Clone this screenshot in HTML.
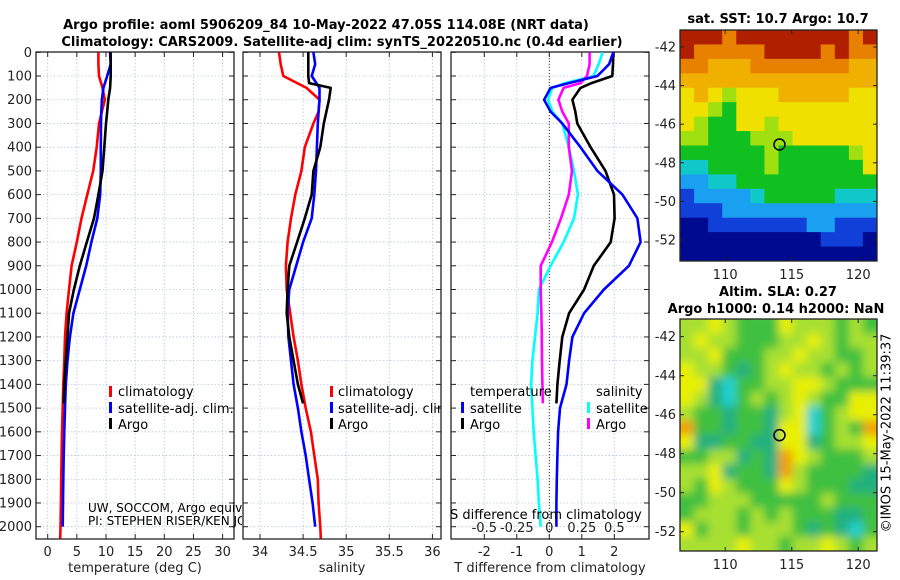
<!DOCTYPE html>
<html><head><meta charset="utf-8"><style>
html,body{margin:0;padding:0;background:#fff;}
svg{display:block;font-family:"DejaVu Sans","Liberation Sans",sans-serif;}
</style></head><body>
<svg id="chart" width="900" height="580" viewBox="0 0 900 580" xmlns="http://www.w3.org/2000/svg">
<defs>
<clipPath id="c1"><rect x="36" y="52" width="198" height="487"/></clipPath>
<clipPath id="c2"><rect x="243" y="52" width="198" height="487"/></clipPath>
<clipPath id="c3"><rect x="451" y="52" width="198" height="487"/></clipPath>
<clipPath id="cnote"><rect x="36" y="490" width="206" height="49"/></clipPath>
<clipPath id="cm1"><rect x="680" y="30" width="197" height="231"/></clipPath>
<clipPath id="cm2"><rect x="680" y="319" width="197" height="232"/></clipPath>
<filter id="blur" x="-10%" y="-10%" width="120%" height="120%"><feGaussianBlur stdDeviation="4.5"/></filter>
</defs>
<text x="326" y="29" text-anchor="middle" font-weight="bold" font-size="13">Argo profile: aoml 5906209_84 10-May-2022 47.05S 114.08E (NRT data)</text>
<text x="342" y="46" text-anchor="middle" font-weight="bold" font-size="13">Climatology: CARS2009. Satellite-adj clim: synTS_20220510.nc (0.4d earlier)</text>
<g id="axes"></g>
<g id="series"></g>
<g id="maps"></g>
<g font-size="13" clip-path="url(#c1)">
<rect x="109" y="386" width="3" height="11" fill="#f00"/><text x="118" y="396">climatology</text>
<rect x="109" y="402" width="3" height="11" fill="#00f"/><text x="118" y="413">satellite-adj. clim.</text>
<rect x="109" y="418" width="3" height="11" fill="#000"/><text x="118" y="429">Argo</text>
</g>
<g font-size="13" clip-path="url(#c2)">
<rect x="330" y="386" width="3" height="11" fill="#f00"/><text x="338" y="396">climatology</text>
<rect x="330" y="402" width="3" height="11" fill="#00f"/><text x="338" y="413">satellite-adj. clim.</text>
<rect x="330" y="418" width="3" height="11" fill="#000"/><text x="338" y="429">Argo</text>
</g>
<g font-size="13">
<text x="470" y="396">temperature</text><text x="596" y="396">salinity</text>
<rect x="461" y="402" width="3" height="11" fill="#00f"/><text x="470" y="413">satellite</text>
<rect x="461" y="418" width="3" height="11" fill="#000"/><text x="470" y="429">Argo</text>
<rect x="587" y="402" width="3" height="11" fill="#0ff"/><text x="596" y="413">satellite</text>
<rect x="587" y="418" width="3" height="11" fill="#f0f"/><text x="596" y="429">Argo</text>
</g>
<g font-size="12" clip-path="url(#cnote)">
<text x="88" y="512">UW, SOCCOM, Argo equivalent</text>
<text x="88" y="525">PI: STEPHEN RISER/KEN JOHNSON</text>
</g>
<text x="450" y="519" font-size="13">S difference from climatology</text>
<text x="887" y="433" font-size="13" transform="rotate(-90 887 433)" text-anchor="middle" dominant-baseline="middle">©IMOS 15-May-2022 11:39:37</text>
<text x="778" y="23" text-anchor="middle" font-weight="bold" font-size="13">sat. SST: 10.7 Argo: 10.7</text>
<text x="778" y="296" text-anchor="middle" font-weight="bold" font-size="13">Altim. SLA: 0.27</text>
<text x="776" y="313" text-anchor="middle" font-weight="bold" font-size="13">Argo h1000: 0.14 h2000: NaN</text>
</svg>
<script>
// ---- data ----
const depthTicks=[0,100,200,300,400,500,600,700,800,900,1000,1100,1200,1300,1400,1500,1600,1700,1800,1900,2000];
const tempTicks=[0,5,10,15,20,25,30];
const salTicks=[34,34.5,35,35.5,36];
const salTickLabels=["34","34.5","35","35.5","36"];
const tdiffTicks=[-2,-1,0,1,2];
const sdiffTicks=[-0.5,-0.25,0,0.25,0.5];
const sdiffTickLabels=["-0.5","-0.25","0","0.25","0.5"];

const climDepth=[0,50,100,150,200,250,300,400,500,600,700,800,900,1000,1100,1200,1300,1400,1500,1600,1700,1800,1900,2000,2050];
const climTemp=[8.7,8.7,8.8,9.4,9.8,9.3,8.8,8.4,7.8,6.8,5.8,5.0,4.1,3.65,3.25,2.96,2.85,2.68,2.57,2.45,2.38,2.32,2.26,2.2,2.15];
const climSal=[34.22,34.24,34.27,34.54,34.69,34.68,34.62,34.52,34.48,34.41,34.36,34.32,34.30,34.31,34.35,34.39,34.44,34.48,34.53,34.59,34.63,34.67,34.68,34.70,34.705];
const satDepth=[0,50,100,150,200,250,300,400,500,600,700,800,900,1000,1100,1200,1300,1400,1500,1600,1700,1800,1900,2000];
const satTemp=[10.8,10.8,10.2,9.55,9.3,9.2,9.15,9.1,9.1,9.0,8.5,7.5,6.6,5.5,4.4,3.8,3.4,3.1,2.96,2.85,2.75,2.68,2.62,2.57];
const satSal=[34.62,34.64,34.60,34.69,34.69,34.68,34.67,34.66,34.65,34.63,34.60,34.50,34.42,34.34,34.32,34.33,34.36,34.39,34.44,34.48,34.53,34.57,34.61,34.64];
const argoTDepth=[0,50,100,150,200,250,300,400,500,600,700,800,900,1000,1100,1200,1300,1400,1480];
const argoTemp=[10.7,10.8,10.8,10.7,10.4,10.2,10.0,9.7,9.4,8.7,7.95,6.7,5.5,4.5,3.65,3.4,3.1,2.85,2.75];
const argoSDepth=[0,50,100,130,150,200,250,300,400,500,600,700,800,900,1000,1100,1200,1300,1400,1480];
const argoSal=[34.56,34.56,34.56,34.57,34.82,34.80,34.77,34.74,34.70,34.62,34.60,34.52,34.43,34.34,34.32,34.31,34.34,34.39,34.44,34.50];

const satDiffDepth=[0,50,100,130,150,200,250,300,400,500,600,700,800,900,1000,1100,1200,1300,1400,1500,1600,1700,1800,1900,2000];
const satTDiff=[1.97,1.84,1.48,0.6,0.04,-0.16,0.04,0.40,0.96,1.48,2.25,2.71,2.81,2.45,1.68,1.07,0.71,0.61,0.53,0.33,0.27,0.25,0.23,0.22,0.22];
const satSDiff=[0.41,0.38,0.34,0.12,0.023,-0.01,0.023,0.10,0.15,0.19,0.22,0.19,0.11,0.01,-0.08,-0.09,-0.11,-0.13,-0.14,-0.13,-0.12,-0.105,-0.09,-0.08,-0.066];
const argoDiffDepth=[0,50,100,130,150,200,250,300,400,500,600,700,800,900,1000,1100,1200,1300,1400,1480];
const argoTDiff=[1.97,1.96,1.94,1.3,0.96,0.71,0.8,0.86,1.27,1.73,1.99,2.01,1.89,1.37,1.07,0.61,0.40,0.32,0.25,0.22];
const argoSDiff=[0.31,0.31,0.29,0.24,0.11,0.07,0.1,0.15,0.15,0.175,0.15,0.09,0.02,-0.066,-0.066,-0.061,-0.058,-0.056,-0.053,-0.05];

const lonTicks=[110,115,120];
const latTicks=[-42,-44,-46,-48,-50,-52];
const floatLon=114.08, floatLat=-47.05;
const sstGrid=["99989999999989","98888899998988","88777888888877","77777777777777","67656667777766","66546666666666","65446656666666","55444555666666","44444454444456","33444454444446","22334444444444","12222344444333","11122222222222","00111111122111","00000000001110","00000000000000"];
const slaGrid=["66765557666565","67665556676566","66755566766556","76654567665656","77435566776555","76435656765577","65545546735677","85545547735658","74455447745667","55664548765556","66745548655554","65765557655544","55666555556555","56665656555445","75665666545435","66667665667656"];

// ---- helpers ----
const NS="http://www.w3.org/2000/svg";
function mk(tag,attrs,parent){const e=document.createElementNS(NS,tag);for(const k in attrs)e.setAttribute(k,attrs[k]);parent.appendChild(e);return e;}
const axes=document.getElementById('axes'), series=document.getElementById('series'), maps=document.getElementById('maps');
const yD=d=>52.3+d*0.2372;
const xT=t=>47.7+t*5.83;
const xS=s=>260+(s-34)*86.2;
const xTD=t=>549.3+t*32.5;
const xSD=s=>549.3+s*130;
const panels=[{x0:36,x1:234,clip:'c1',name:'temperature-panel'},{x0:243,x1:441,clip:'c2',name:'salinity-panel'},{x0:451,x1:649,clip:'c3',name:'difference-panel'}];

panels.forEach((p,i)=>{
  const g=mk('g',{},axes);
  
  
  depthTicks.forEach(d=>{
    const y=yD(d);
    const l=mk('line',{x1:p.x0,x2:p.x1,y1:y,y2:y,stroke:'#b8c4e0','stroke-width':0.8,'stroke-dasharray':'1.5,2'},g);
    
    
    mk('line',{x1:p.x0,x2:p.x0+5,y1:y,y2:y,stroke:'#222','stroke-width':1},g);
    mk('line',{x1:p.x1-5,x2:p.x1,y1:y,y2:y,stroke:'#222','stroke-width':1},g);
    if(i===0){const t=mk('text',{x:32,y:y+4.5,'text-anchor':'end','font-size':13,fill:'#222'},g);t.textContent=d;
      }
  });
});
function xgrid(g,ticks,labels,fx){
  ticks.forEach((v,k)=>{const x=fx(v);
    const l=mk('line',{x1:x,x2:x,y1:52,y2:539,stroke:'#b8c4e0','stroke-width':0.8,'stroke-dasharray':'1.5,2'},g);
    
    
    mk('line',{x1:x,x2:x,y1:534,y2:539,stroke:'#222'},g);
    mk('line',{x1:x,x2:x,y1:52,y2:57,stroke:'#222'},g);
    const t=mk('text',{x:x,y:556,'text-anchor':'middle','font-size':13,fill:'#222'},g);t.textContent=labels[k];
    
    
  });
}
xgrid(axes,tempTicks,tempTicks.map(String),xT);
xgrid(axes,salTicks,salTickLabels,xS);
xgrid(axes,tdiffTicks,tdiffTicks.map(String),xTD);
sdiffTicks.forEach((v,k)=>{const t=mk('text',{x:xSD(v),y:532,'text-anchor':'middle','font-size':13,fill:'#222'},axes);t.textContent=sdiffTickLabels[k];
  
  });
const zl=mk('line',{x1:xTD(0),x2:xTD(0),y1:52,y2:539,stroke:'#333','stroke-width':1,'stroke-dasharray':'1,2'},axes);


[['temperature (deg C)',135,'temperature-axis-title'],['salinity',342,'salinity-axis-title'],['T difference from climatology',550,'t-diff-axis-title']].forEach(a=>{
  const t=mk('text',{x:a[1],y:572,'text-anchor':'middle','font-size':13,fill:'#222'},axes);t.textContent=a[0];
  
  });
panels.forEach(p=>{const r=mk('rect',{x:p.x0,y:52,width:p.x1-p.x0,height:487,fill:'none',stroke:'#222','stroke-width':1.3},axes);
  
  });

function line(depths,vals,fx,color,clip,name){
  const pts=vals.map((v,k)=>fx(v).toFixed(1)+','+yD(depths[k]).toFixed(1)).join(' ');
  const pl=mk('polyline',{points:pts,fill:'none',stroke:color,'stroke-width':2.6,'stroke-linejoin':'round','clip-path':'url(#'+clip+')'},series);
  
  
}
line(climDepth,climTemp,xT,'#f00','c1','climatology-temperature-line');
line(satDepth,satTemp,xT,'#00f','c1','satellite-temperature-line');
line(argoTDepth,argoTemp,xT,'#000','c1','argo-temperature-line');
line(climDepth,climSal,xS,'#f00','c2','climatology-salinity-line');
line(satDepth,satSal,xS,'#00f','c2','satellite-salinity-line');
line(argoSDepth,argoSal,xS,'#000','c2','argo-salinity-line');
line(satDiffDepth,satSDiff,xSD,'#0ff','c3','satellite-salinity-diff-line');
line(argoDiffDepth,argoSDiff,xSD,'#f0f','c3','argo-salinity-diff-line');
line(argoDiffDepth,argoTDiff,xTD,'#000','c3','argo-temperature-diff-line');
line(satDiffDepth,satTDiff,xTD,'#00f','c3','satellite-temperature-diff-line');

// ---- maps ----
const sstColors=['#000a90','#1040d8','#1aa0f0','#10c8c8','#10c020','#a0e010','#f0e000','#f0b000','#e88000','#b02000'];
const slaColors=['#000','#000','#000','#20d0d0','#20b080','#40c040','#a8e030','#e8f000','#f0a000'];
const lonX=l=>680+(l-106.6)*13.3;
function drawMap(grid,colors,top,h,latY,clip,name,blur){
  const g=mk('g',{'clip-path':'url(#'+clip+')'},maps);
  
  
  const inner=mk('g',blur?{filter:'url(#blur)'}:{},g);
  const rows=grid.length, cols=grid[0].length, cw=197/cols, ch=h/rows;
  grid.forEach((row,r)=>{for(let c=0;c<cols;c++){
    const ex=blur?8:0;
    const x=680+c*cw-(c===0?ex:0), y=top+r*ch-(r===0?ex:0);
    const w=cw+0.6+(c===0||c===cols-1?ex:0), hh=ch+0.6+(r===0||r===rows-1?ex:0);
    const cell=mk('rect',{x:x,y:y,width:w,height:hh,fill:colors[+row[c]]},inner);
    
    
  }});
  const fr=mk('rect',{x:680,y:top,width:197,height:h,fill:'none',stroke:'#222','stroke-width':1.3},maps);
  
  
  lonTicks.forEach(l=>{const x=lonX(l);
    mk('line',{x1:x,x2:x,y1:top+h-4,y2:top+h,stroke:'#222'},maps);
    mk('line',{x1:x,x2:x,y1:top,y2:top+4,stroke:'#222'},maps);
    const t=mk('text',{x:x,y:top+h+18,'text-anchor':'middle','font-size':13,fill:'#222'},maps);t.textContent=l;
    
    });
  latTicks.forEach(la=>{const y=latY(la);
    mk('line',{x1:873,x2:877,y1:y,y2:y,stroke:'#222'},maps);
    mk('line',{x1:680,x2:684,y1:y,y2:y,stroke:'#222'},maps);
    const t=mk('text',{x:676,y:y+4.5,'text-anchor':'end','font-size':13,fill:'#222'},maps);t.textContent=la;
    
    });
  const c=mk('circle',{cx:lonX(floatLon),cy:latY(floatLat),r:5.5,fill:'none',stroke:'#000','stroke-width':1.5},maps);
  
  
}
drawMap(sstGrid,sstColors,30,231,la=>47-(la+42)*19.3,'cm1','sst-map',false);
drawMap(slaGrid,slaColors,319,232,la=>336.7-(la+42)*19.5,'cm2','sla-map',true);
</script>
</body></html>
